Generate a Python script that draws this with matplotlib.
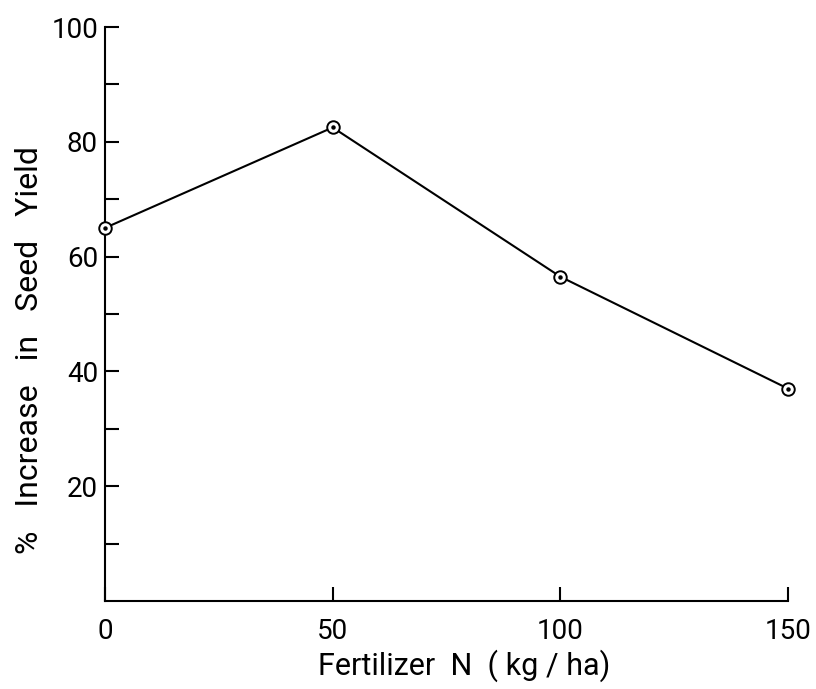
import numpy as np
import matplotlib.pyplot as plt

# data
nitrogen = [0, 50, 100, 150]
yield_increase = [65, 82.5, 56.5, 37]
x_ticks = [0, 50, 100, 150]
y_ticks = [20, 40, 60, 80, 100]

plt.rcParams['font.family'] = ['Roboto', 'DejaVu Sans']

fig = plt.figure(figsize=(8.16, 6.89), dpi=100)
ax = fig.add_axes([0.1287, 0.1277, 0.8370, 0.8331])

ax.plot(nitrogen, yield_increase, color='black', lw=1.5, zorder=2)
ax.plot(nitrogen, yield_increase, 'o', ms=9, mfc='white', mec='black', mew=1.4,
        zorder=3, clip_on=False)
ax.plot(nitrogen, yield_increase, 'o', ms=2.2, color='black', zorder=4, clip_on=False)

ax.set_xlim(0, 150)
ax.set_ylim(0, 100)
ax.set_xticks(x_ticks)
ax.set_yticks(y_ticks)
ax.set_yticks(np.arange(10, 100, 20), minor=True)

for s in ['top', 'right']:
    ax.spines[s].set_visible(False)
for s in ['left', 'bottom']:
    ax.spines[s].set_linewidth(1.5)

ax.tick_params(axis='both', which='both', direction='in', width=1.5, colors='black',
               labelsize=20)
ax.tick_params(axis='y', which='both', length=10, pad=5)
ax.tick_params(axis='x', which='major', length=10, pad=12)
ax.tick_params(axis='y', which='minor', length=10)

ax.set_xlabel('Fertilizer  N  ( kg / ha)', fontsize=22)
ax.set_ylabel('%   Increase   in   Seed   Yield', fontsize=23)
ax.xaxis.set_label_coords(0.526, -0.085)
ax.yaxis.set_label_coords(-0.09, 0.437)

fig.savefig('out.png', dpi=100)
